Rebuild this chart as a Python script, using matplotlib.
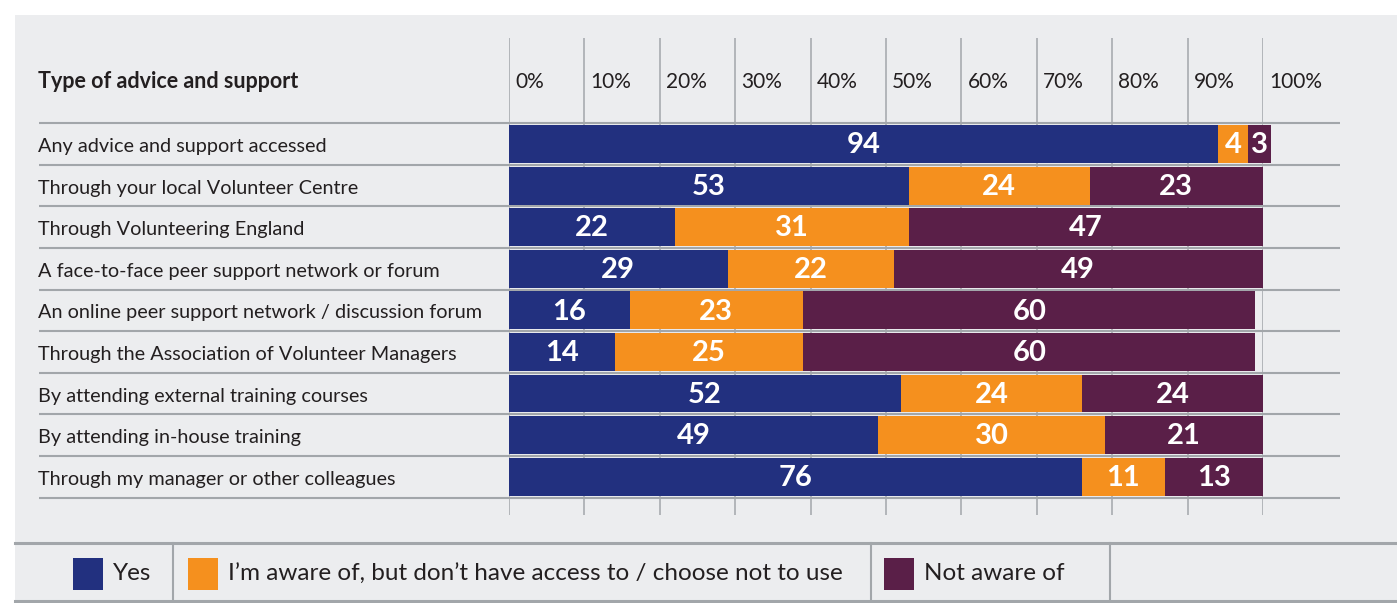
import matplotlib.pyplot as plt
import matplotlib.transforms as mtransforms
from matplotlib.patches import Rectangle
from matplotlib.lines import Line2D

plt.rcParams['font.family'] = ['Lato', 'DejaVu Sans']

categories = [
    "Any advice and support accessed",
    "Through your local Volunteer Centre",
    "Through Volunteering England",
    "A face-to-face peer support network or forum",
    "An online peer support network / discussion forum",
    "Through the Association of Volunteer Managers",
    "By attending external training courses",
    "By attending in-house training",
    "Through my manager or other colleagues",
]
yes = [94, 53, 22, 29, 16, 14, 52, 49, 76]
aware_no_access = [4, 24, 31, 22, 23, 25, 24, 30, 11]
not_aware = [3, 23, 47, 49, 60, 60, 24, 21, 13]
series_names = ["Yes", "I\u2019m aware of, but don\u2019t have access to / choose not to use", "Not aware of"]
ticks = list(range(0, 101, 10))

NAVY = '#22307f'
ORANGE = '#f5901e'
PURPLE = '#5a1f48'
PANEL = '#ecedef'
LINE = '#a2a6aa'
TEXT = '#231f20'

W, H = 1397, 603
def fx(x):
    return x / W
def fy(y):
    return 1 - y / H

fig = plt.figure(figsize=(W / 100, H / 100), dpi=100)
fig.patch.set_facecolor('white')
fig.add_artist(Rectangle((fx(15), 0), 1 - fx(15), fy(15), transform=fig.transFigure,
                         facecolor=PANEL, edgecolor='none', zorder=-10))

ax = fig.add_axes([fx(509), fy(515), (1263 - 509) / W, (515 - 38) / H])
ax.set_xlim(0, 100)
ax.set_ylim(8.92, -2.55)
ax.axis('off')

# vertical grid through header and bars
ax.vlines(ticks, -2.55, 8.92, color=LINE, lw=1.1, zorder=1)
for t in ticks:
    ax.text(t + 0.8, -1.5, f"{t}%", ha='left', va='center', fontsize=15, color=TEXT)

# row separators and header rule
seps = [-0.5] + [i + 0.5 for i in range(len(categories))]
ax.hlines(seps, -62.3, 110.2, color=LINE, lw=1.5, clip_on=False, zorder=1)

rows = range(len(categories))
lefts = [0] * len(categories)
for vals, col in zip([yes, aware_no_access, not_aware], [NAVY, ORANGE, PURPLE]):
    bars = ax.barh(rows, vals, left=lefts, height=0.91, color=col, zorder=2)
    for b in bars:
        b.set_clip_on(False)
    for r, v, l in zip(rows, vals, lefts):
        ax.text(l + v / 2, r + 0.03, str(v), ha='center', va='center', color='white',
                fontsize=21, fontweight='bold', zorder=3)
    lefts = [l + v for l, v in zip(lefts, vals)]

# category labels on the left
trans = mtransforms.blended_transform_factory(fig.transFigure, ax.transData)
for r, name in zip(rows, categories):
    ax.text(fx(38), r + 0.06, name, transform=trans, ha='left', va='center', fontsize=14.3, color=TEXT)
ax.text(fx(38), -1.5, "Type of advice and support", transform=trans, ha='left', va='center',
        fontsize=15.5, fontweight='bold', color=TEXT)

# legend strip
for y in (543, 601):
    fig.add_artist(Line2D([fx(15), 1], [fy(y), fy(y)], transform=fig.transFigure, color=LINE, lw=2.2))
for x in (173, 871, 1110):
    fig.add_artist(Line2D([fx(x), fx(x)], [fy(543), fy(601)], transform=fig.transFigure, color=LINE, lw=1.5))
legend_x = [73, 188, 884]
for x, name, col in zip(legend_x, series_names, [NAVY, ORANGE, PURPLE]):
    fig.add_artist(Rectangle((fx(x), fy(590)), 30 / W, 32 / H, transform=fig.transFigure,
                             facecolor=col, edgecolor='none'))
    fig.text(fx(x + 40), fy(574), name, ha='left', va='center', fontsize=17.5, color=TEXT)

fig.savefig('out.png', dpi=100)
